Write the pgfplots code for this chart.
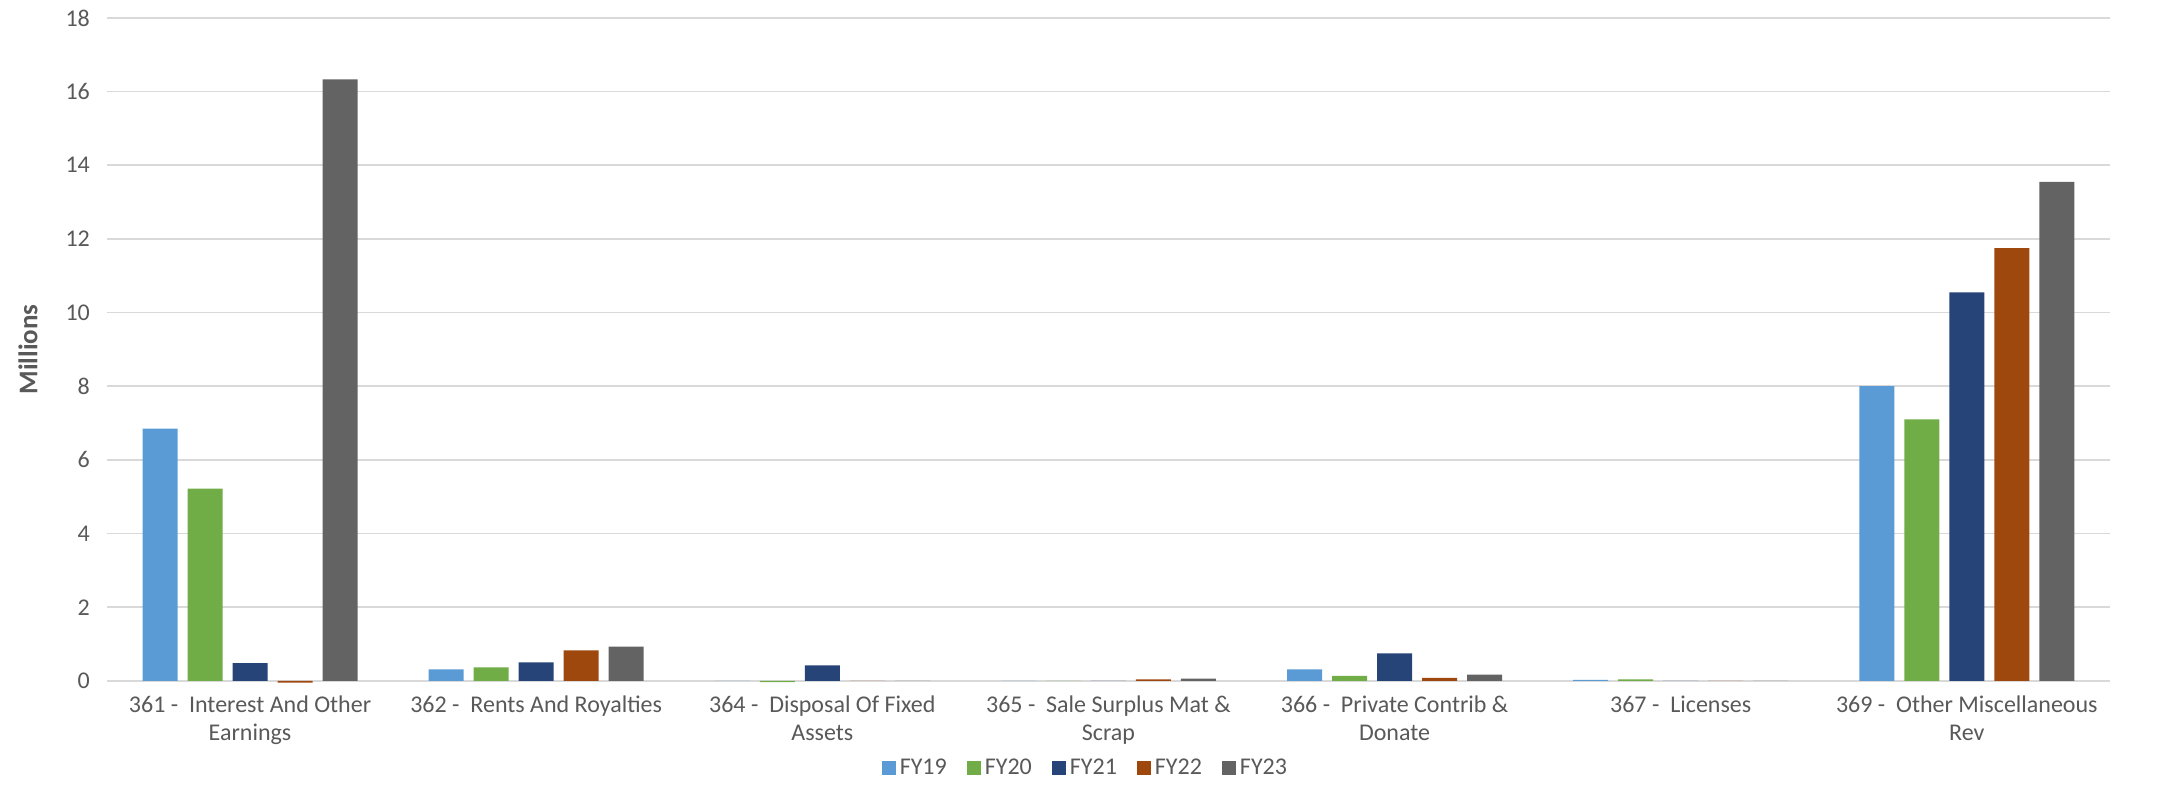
\documentclass[border=0pt]{standalone}
\usepackage{pgfplots}
\pgfplotsset{compat=1.18}
\usepackage{fontspec}
\setmainfont{Carlito}

\definecolor{cFYa}{HTML}{5B9BD5}
\definecolor{cFYb}{HTML}{70AD47}
\definecolor{cFYc}{HTML}{264478}
\definecolor{cFYd}{HTML}{9E480E}
\definecolor{cFYe}{HTML}{636363}
\definecolor{gridgray}{HTML}{D9D9D9}
\definecolor{txt}{HTML}{595959}

\begin{document}
\begin{tikzpicture}
\begin{axis}[
    scale only axis,
    width=1001.5pt, height=331.5pt,
    ybar=5pt, bar width=17.5pt,
    xmin=-0.5, xmax=6.5,
    ymin=0, ymax=18,
    ytick={0,2,...,18},
    xtick={0,...,6},
    xticklabels={{361 -~ Interest And Other\\Earnings},
                 {362 -~ Rents And Royalties},
                 {364 -~ Disposal Of Fixed\\Assets},
                 {365 -~ Sale Surplus Mat \&\\Scrap},
                 {366 -~ Private Contrib \&\\Donate},
                 {367 -~ Licenses},
                 {369 -~ Other Miscellaneous\\Rev}},
    xticklabel style={align=center, font=\fontsize{12}{14}\selectfont, text=txt, anchor=north, yshift=-4pt},
    yticklabel style={font=\fontsize{12}{14}\selectfont, text=txt, anchor=east, xshift=-5pt},
    /pgf/number format/assume math mode=true,
    ymajorgrids, grid style={gridgray, line width=0.9pt},
    axis x line*=bottom, axis y line*=left,
    x axis line style={gridgray, line width=0.9pt, -},
    y axis line style={draw=none},
    major tick length=0pt,
    ylabel={Millions},
    ylabel style={at={(axis description cs:-0.0394,0.5)}, anchor=center, rotate=0,
        font=\bfseries\fontsize{13.5}{16}\selectfont, text=txt},
    clip=false,
    legend columns=5,
    legend style={at={(0.489,-0.131)}, anchor=center, draw=none,
        font=\fontsize{12}{14}\selectfont, text=txt,
        /tikz/every even column/.append style={column sep=8pt}},
    legend image code/.code={\fill[#1] (0pt,-3.5pt) rectangle (7pt,3.5pt);},
]
\addplot[fill=cFYa, draw=none] coordinates {(0,6.85)(1,0.31)(2,0)(3,0)(4,0.31)(5,0.03)(6,8.0)};
\addplot[fill=cFYb, draw=none] coordinates {(0,5.22)(1,0.37)(2,-0.03)(3,0)(4,0.14)(5,0.04)(6,7.1)};
\addplot[fill=cFYc, draw=none] coordinates {(0,0.48)(1,0.50)(2,0.42)(3,0)(4,0.75)(5,0)(6,10.55)};
\addplot[fill=cFYd, draw=none] coordinates {(0,-0.05)(1,0.83)(2,0)(3,0.04)(4,0.08)(5,0)(6,11.75)};
\addplot[fill=cFYe, draw=none] coordinates {(0,16.33)(1,0.93)(2,0)(3,0.06)(4,0.17)(5,0)(6,13.55)};
\legend{FY19,FY20,FY21,FY22,FY23}
\path (axis description cs:-0.0534,-0.19) rectangle (axis description cs:1.031,1.027);
\end{axis}
\end{tikzpicture}
\end{document}
